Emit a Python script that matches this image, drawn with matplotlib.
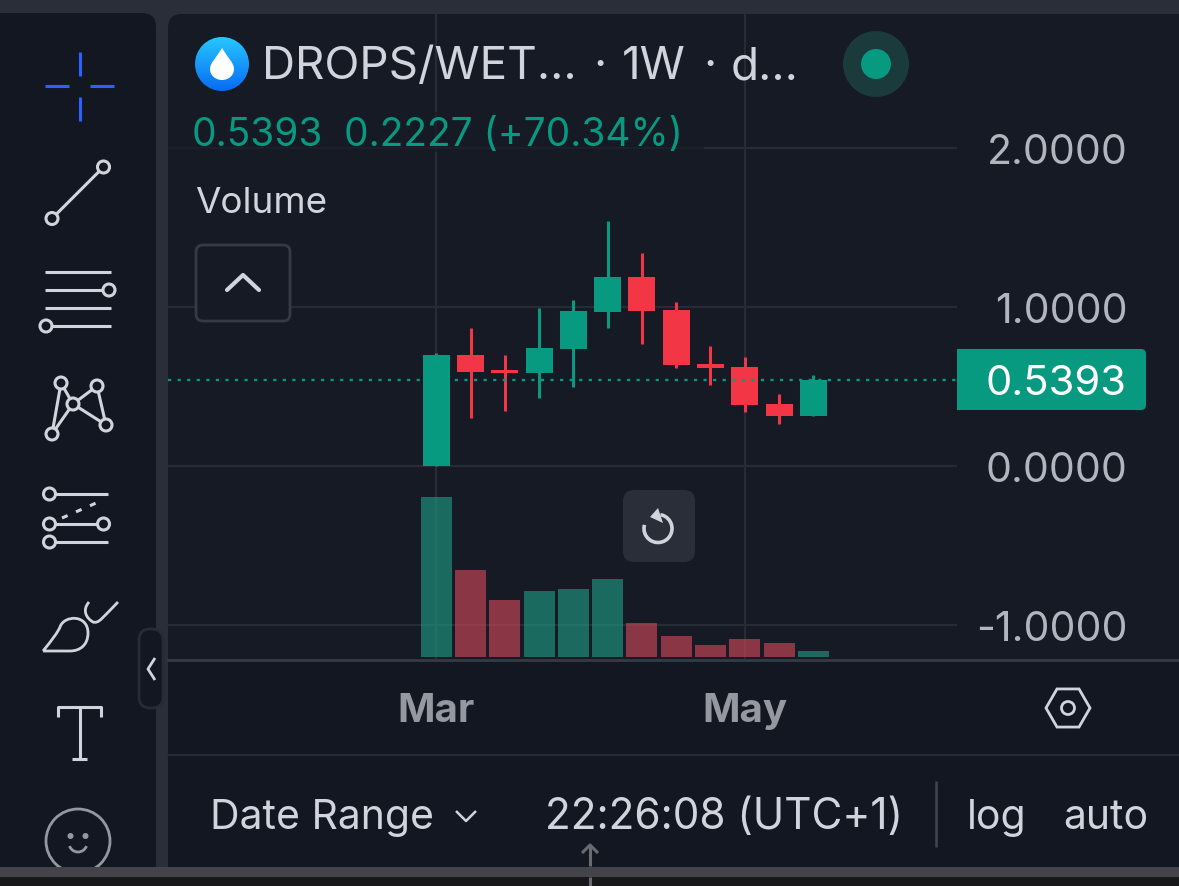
import matplotlib
matplotlib.use("Agg")
import matplotlib.pyplot as plt
import numpy as np
from matplotlib.patches import Circle, FancyBboxPatch, Rectangle, RegularPolygon, PathPatch, Arc, Polygon
from matplotlib.path import Path

plt.rcParams["font.family"] = ["Inter", "DejaVu Sans"]

# weekly candles
opens = [0.000, 0.698, 0.604, 0.585, 0.736, 0.969, 1.189, 0.981, 0.642, 0.623, 0.390, 0.3166]
closes = [0.698, 0.591, 0.583, 0.742, 0.975, 1.189, 0.975, 0.635, 0.616, 0.384, 0.314, 0.5393]
highs = [0.709, 0.868, 0.698, 0.994, 1.044, 1.541, 1.340, 1.031, 0.755, 0.686, 0.453, 0.572]
lows = [0.000, 0.302, 0.346, 0.428, 0.497, 0.868, 0.767, 0.616, 0.509, 0.340, 0.264, 0.3166]
volumes = [160, 87, 57, 66, 68, 78, 34, 21, 12, 18, 14, 6]
last_price = 0.5393

price_ticks = [2.0, 1.0, 0.0, -1.0]
month_ticks = [0, 9]
month_labels = ["Mar", "May"]

W, H = 1179, 887
GREEN = "#089981"
RED = "#f23645"
VOL_GREEN = "#20a087"
VOL_RED = "#d9495a"
TEXT = "#d1d4dc"
GRID = "#272b36"
CHART_BG = "#161a25"
PANEL_BG = "#131722"
STRIP = "#2a2e39"


def rounded(ax, x, y, w, h, r, **kw):
    patch = FancyBboxPatch((x, y), w, h, boxstyle=f"round,pad=0,rounding_size={r}", **kw)
    ax.add_patch(patch)
    return patch


def ring(ax, x, y, r=6, lw=2.2):
    ax.add_patch(Circle((x, y), r, fc=PANEL_BG, ec=TEXT, lw=lw, zorder=3))


def stroke(ax, xs, ys, color=TEXT, lw=2.2, **kw):
    ax.plot(xs, ys, color=color, lw=lw, solid_capstyle=kw.pop("cap", "butt"), **kw)


def draw_background(ax):
    ax.add_patch(Rectangle((0, 0), W, H, fc=STRIP, ec="none"))
    rounded(ax, -20, 13, 176, 900, 14, fc=PANEL_BG, ec="none")
    rounded(ax, 168, 14, 1040, 900, 14, fc=CHART_BG, ec="none")
    ax.add_patch(Rectangle((168, 659), W - 168, 230, fc=PANEL_BG, ec="none"))
    ax.plot([168, W], [659.5, 659.5], color="#363a45", lw=2)
    ax.plot([168, W], [754.5, 754.5], color=GRID, lw=1.5)


def draw_toolbar(ax):
    # crosshair
    blue = "#2962ff"
    stroke(ax, [79.5, 79.5], [52, 76], blue)
    stroke(ax, [79.5, 79.5], [97, 121], blue)
    stroke(ax, [45, 69], [86, 86], blue)
    stroke(ax, [90, 114], [86, 86], blue)
    # trend line
    stroke(ax, [52, 103.5], [218.5, 167])
    ring(ax, 103.5, 167)
    ring(ax, 52, 218.5)
    # channel
    for y, x0, x1 in [(272, 45, 111), (290, 45, 103), (308, 45, 111), (326, 52, 111)]:
        stroke(ax, [x0, x1], [y, y])
    ring(ax, 109, 290)
    ring(ax, 46, 326)
    # pattern
    pts = {"a": (61, 383), "b": (97, 386), "c": (73, 404), "d": (106, 425), "e": (52, 434)}
    for p, q in ["ae", "ac", "ce", "cb", "bd", "cd"]:
        stroke(ax, [pts[p][0], pts[q][0]], [pts[p][1], pts[q][1]])
    for p in pts.values():
        ring(ax, *p)
    # forecast
    for y, x0, x1 in [(494, 50, 108), (524, 50, 103), (542, 50, 108)]:
        stroke(ax, [x0, x1], [y, y])
    stroke(ax, [62, 103], [518, 500], ls=(0, (2, 3)))
    for x, y in [(49.5, 494), (49.5, 524), (103.5, 524), (49.5, 542)]:
        ring(ax, x, y)
    # brush
    verts = [(43, 651), (52, 640), (58, 632), (60, 627), (64, 615), (88, 614), (88, 633),
             (88, 645), (80, 651), (70, 651), (43, 651)]
    codes = [Path.MOVETO] + [Path.CURVE4] * 9 + [Path.LINETO]
    ax.add_patch(PathPatch(Path(verts, codes), fc="none", ec=TEXT, lw=2))
    handle = [(89, 602), (82, 610), (86, 618), (93, 622), (99, 624), (103, 617), (118, 602)]
    hcodes = [Path.MOVETO] + [Path.CURVE4] * 6
    ax.add_patch(PathPatch(Path(handle, hcodes), fc="none", ec=TEXT, lw=2))
    # text tool
    stroke(ax, [58, 58, 101, 101], [717, 707, 707, 717])
    stroke(ax, [79.5, 79.5], [707, 759])
    stroke(ax, [72, 87], [759, 759])
    # smiley
    ax.add_patch(Circle((78, 841), 32, fc="none", ec="#9598a1", lw=2))
    ax.add_patch(Circle((70.5, 836), 3, fc="#9598a1", ec="none"))
    ax.add_patch(Circle((85.5, 836), 3, fc="#9598a1", ec="none"))
    ax.add_patch(Arc((78, 843), 18, 18, theta1=20, theta2=160, ec="#9598a1", lw=2))
    # collapse handle
    rounded(ax, 139, 629, 24, 79, 11, fc=PANEL_BG, ec=GRID, lw=2)
    stroke(ax, [155, 148, 155], [658, 669, 680], lw=2)


def draw_header(ax):
    # logo
    grad = np.linspace(0, 1, 64)[:, None, None]
    top = np.array([0.15, 0.78, 1.0])
    bottom = np.array([0.03, 0.42, 0.96])
    img = ax.imshow(top + (bottom - top) * grad, extent=(195, 249, 91, 37), aspect="auto", zorder=2)
    img.set_clip_path(Circle((222, 64), 27, transform=ax.transData))
    drop = [(222, 48), (216, 58), (210, 63), (210, 69), (210, 75), (215, 80), (222, 80),
            (229, 80), (234, 75), (234, 69), (234, 63), (228, 58), (222, 48)]
    dcodes = [Path.MOVETO] + [Path.CURVE4] * 12
    ax.add_patch(PathPatch(Path(drop, dcodes), fc="white", ec="none", zorder=3))
    ax.text(262, 66, "DROPS/WET...", color=TEXT, fontsize=33, va="center")
    ax.text(600, 66, "·", color=TEXT, fontsize=33, va="center", ha="center")
    ax.text(622, 66, "1W", color=TEXT, fontsize=33, va="center")
    ax.text(710, 66, "·", color=TEXT, fontsize=33, va="center", ha="center")
    ax.text(731, 66, "d...", color=TEXT, fontsize=33, va="center")
    ax.add_patch(Circle((876, 64), 33, fc="#1b3a3c", ec="none"))
    ax.add_patch(Circle((876, 64), 15, fc=GREEN, ec="none"))
    # legend background partly hides the grid line
    ax.add_patch(Rectangle((168, 112), 536, 40, fc=CHART_BG, ec="none", alpha=0.6))
    ax.text(192, 134, "0.5393", color=GREEN, fontsize=28, va="center")
    ax.text(344, 134, "0.2227 (+70.34%)", color=GREEN, fontsize=28, va="center")
    ax.text(195, 202, "Volume", color=TEXT, fontsize=26.5, va="center")
    rounded(ax, 196, 245, 94, 76, 7, fc=CHART_BG, ec="#363a45", lw=2)
    stroke(ax, [227, 243, 259], [290, 275, 290], lw=3, cap="round")


def draw_overlays(ax):
    # reset button
    rounded(ax, 623, 490, 72, 72, 11, fc=STRIP, ec="none")
    ax.add_patch(Arc((658, 528.5), 28, 28, theta1=-80, theta2=195, ec=TEXT, lw=2.6))
    ax.add_patch(Polygon([(650, 517), (658, 508), (663, 523)], fc=TEXT, ec="none"))
    # last price label
    rounded(ax, 957, 349, 189, 61, 5, fc=GREEN, ec="none")
    ax.add_patch(Rectangle((957, 349), 10, 61, fc=GREEN, ec="none"))
    ax.text(1127, 383, f"{last_price:.4f}", color="white", fontsize=30, va="center", ha="right")
    # settings icon
    ax.add_patch(RegularPolygon((1068, 708), 6, radius=22, orientation=np.pi / 6, fc="none", ec=TEXT, lw=2))
    ax.add_patch(Circle((1068, 708), 6.5, fc="none", ec=TEXT, lw=2))


def draw_footer(ax):
    ax.text(210, 817, "Date Range", color=TEXT, fontsize=29.5, va="center")
    stroke(ax, [456, 466, 476], [811, 821, 811], lw=1.8)
    ax.text(545, 817, "22:26:08 (UTC+1)", color=TEXT, fontsize=30.5, va="center")
    stroke(ax, [936, 936], [781, 847], color="#434651", lw=1.8)
    ax.text(967, 817, "log", color=TEXT, fontsize=29.5, va="center")
    ax.text(1063, 817, "auto", color=TEXT, fontsize=29.5, va="center")
    ax.add_patch(Rectangle((0, 867), W, 10, fc="#434349", ec="none", zorder=4))
    ax.add_patch(Rectangle((0, 877), W, 12, fc="#18181b", ec="none", zorder=4))
    stroke(ax, [590, 590], [845, 866], color="#6a6a70")
    stroke(ax, [582, 590, 598], [853, 845, 853], color="#6a6a70")
    stroke(ax, [590, 590], [877, 889], color="#6a6a70", zorder=5)


fig = plt.figure(figsize=(W / 100, H / 100), dpi=100)

bg = fig.add_axes([0, 0, 1, 1], zorder=0)
draw_background(bg)

# chart area 168..957 px wide, 15..660 px high
ax = fig.add_axes([168 / W, 1 - 660 / H, (957 - 168) / W, (660 - 15) / H], zorder=1)
ax.patch.set_visible(False)
x = np.arange(len(opens))
ax.set_xlim((168 - 436.3) / 34.27, (957 - 436.3) / 34.27)
ax.set_ylim((466 - 659) / 159, (466 - 14) / 159)
ax.grid(True, color=GRID, lw=1.6, zorder=0)
ax.set_axisbelow(True)
for side in ax.spines.values():
    side.set_visible(False)

colors = [GREEN if c >= o else RED for o, c in zip(opens, closes)]
vol_colors = [VOL_GREEN if c >= o else VOL_RED for o, c in zip(opens, closes)]
ax.vlines(x, lows, highs, colors=colors, lw=2.2, zorder=2)
ax.bar(x, np.array(closes) - np.array(opens), 27 / 34.27, bottom=opens, color=colors, zorder=3)
ax.axhline(last_price, color=GREEN, lw=1.7, ls=(0, (1.35, 2.7)), zorder=4)

vol = ax.twinx()
vol.patch.set_visible(False)
vol.set_ylim(-2, 643)
vol.set_yticks([])
for side in vol.spines.values():
    side.set_visible(False)
vol.bar(x, volumes, 31 / 34.27, color=vol_colors, alpha=0.6)

# twinx moves the ticks back to the left, so set them up after it
ax.yaxis.tick_right()
ax.set_xticks(month_ticks, month_labels)
ax.set_yticks(price_ticks, [f"{p:.4f}" for p in price_ticks])
ax.tick_params(axis="x", length=0, pad=24, labelsize=29, labelcolor="#9598a1")
ax.tick_params(axis="y", length=0, pad=123, labelsize=29.5, labelcolor="#b2b5be")
for label in ax.get_xticklabels():
    label.set_fontweight("bold")
for label in ax.yaxis.get_ticklabels():
    label.set_ha("right")

ui = fig.add_axes([0, 0, 1, 1], zorder=2)
ui.patch.set_visible(False)
draw_toolbar(ui)
draw_header(ui)
draw_overlays(ui)
draw_footer(ui)

for a in (bg, ui):
    a.set_xlim(0, W)
    a.set_ylim(H - 1, -1)
    a.axis("off")

fig.savefig("out.png", dpi=100, facecolor=STRIP)
